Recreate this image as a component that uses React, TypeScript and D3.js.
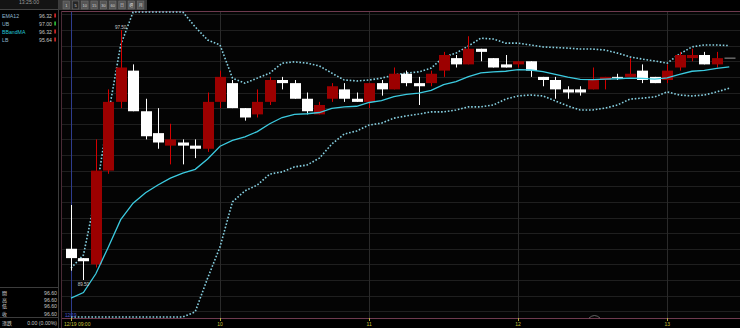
import React from "react";
import * as d3 from "d3";

// ---- data (5-minute bars, 12/19 09:00 .. 13:25) ----
const opens = [90.5, 90.2, 90.0, 93.0, 95.2, 96.2, 94.9, 94.2, 93.8, 93.9, 93.8, 93.7, 95.2, 95.8, 95.0, 94.8, 95.2, 95.9, 95.8, 95.3, 94.8, 95.3, 95.6, 95.3, 95.2, 95.8, 95.6, 96.1, 95.8, 95.8, 96.2, 96.6, 96.4, 96.9, 96.6, 96.4, 96.4, 96.5, 96.0, 95.9, 95.6, 95.6, 95.6, 95.9, 96.0, 96.0, 96.2, 96.0, 95.9, 96.3, 96.6, 96.7, 96.4, 96.6];
const highs = [91.9, 90.2, 94.0, 95.6, 97.5, 96.4, 95.3, 95.0, 94.5, 94.0, 94.0, 95.5, 96.2, 95.9, 95.0, 95.6, 96.0, 96.0, 95.9, 95.5, 95.2, 95.8, 95.8, 95.5, 95.8, 95.9, 96.3, 96.2, 96.0, 96.2, 96.8, 96.7, 97.3, 96.9, 96.6, 96.7, 96.5, 96.5, 96.0, 96.0, 95.7, 95.7, 96.3, 96.0, 96.1, 96.6, 96.4, 96.0, 96.4, 96.8, 96.9, 96.8, 96.8, 96.6];
const lows = [89.8, 89.5, 89.9, 92.9, 95.0, 94.9, 94.0, 93.7, 93.2, 93.2, 93.4, 93.6, 95.0, 95.0, 94.6, 94.7, 95.1, 95.6, 95.3, 94.8, 94.8, 95.2, 95.2, 95.2, 95.0, 95.4, 95.6, 95.7, 95.1, 95.7, 96.0, 96.3, 96.4, 96.5, 96.3, 96.3, 96.3, 96.0, 95.7, 95.3, 95.3, 95.4, 95.6, 95.6, 95.9, 96.0, 95.8, 95.8, 95.8, 96.2, 96.5, 96.4, 96.3, 96.6];
const closes = [90.2, 90.1, 93.0, 95.2, 96.3, 94.9, 94.1, 93.9, 94.0, 93.8, 93.7, 95.2, 96.0, 95.0, 94.7, 95.2, 95.9, 95.8, 95.3, 94.9, 95.1, 95.7, 95.3, 95.2, 95.8, 95.6, 96.1, 95.8, 95.7, 96.1, 96.7, 96.4, 96.9, 96.8, 96.3, 96.3, 96.5, 96.2, 95.9, 95.6, 95.5, 95.5, 95.9, 96.0, 96.0, 96.1, 95.9, 95.8, 96.2, 96.7, 96.7, 96.4, 96.6, 96.6];

const ema12 = [88.92, 89.1, 89.7, 90.55, 91.43, 91.96, 92.29, 92.54, 92.76, 92.92, 93.04, 93.37, 93.78, 93.97, 94.08, 94.25, 94.5, 94.7, 94.8, 94.82, 94.86, 94.99, 95.04, 95.06, 95.18, 95.24, 95.37, 95.44, 95.48, 95.57, 95.75, 95.85, 96.01, 96.13, 96.16, 96.18, 96.23, 96.22, 96.17, 96.08, 95.99, 95.92, 95.91, 95.93, 95.94, 95.96, 95.95, 95.93, 95.97, 96.08, 96.18, 96.21, 96.27, 96.32];
const upperBand = [89.88, 90.3, 92.22, 94.78, 97.02, 98.1, 99.0, 99.1, 99.0, 98.1, 97.6, 97.18, 97.02, 95.96, 95.8, 95.96, 96.12, 96.44, 96.48, 96.44, 96.35, 96.12, 95.9, 95.87, 95.9, 95.96, 96.06, 96.12, 96.16, 96.28, 96.64, 96.76, 96.99, 97.24, 97.21, 97.08, 97.08, 97.02, 96.96, 96.94, 96.92, 96.89, 96.89, 96.86, 96.76, 96.64, 96.57, 96.51, 96.44, 96.73, 96.96, 97.02, 97.02, 97.0];
const lowerBand = [87.96, 87.9, 87.18, 86.32, 85.84, 85.82, 85.58, 85.98, 86.52, 87.74, 88.48, 89.56, 90.56, 92.0, 92.35, 92.54, 92.89, 92.96, 93.12, 93.18, 93.4, 93.85, 94.17, 94.27, 94.46, 94.52, 94.68, 94.75, 94.81, 94.88, 94.88, 94.94, 95.04, 95.04, 95.1, 95.29, 95.39, 95.42, 95.39, 95.23, 95.07, 94.94, 94.94, 95.0, 95.1, 95.29, 95.32, 95.36, 95.52, 95.42, 95.39, 95.42, 95.52, 95.64];

const tickIndex = [0, 12, 24, 36, 48];
const tickLabels = ["12/19 09:00", "10", "11", "12", "13"];

const headerTime = "13:25:00";
const indNames = ["EMA12", "UB", "BBandMA", "LB"];
const indValues = ["96.32", "97.00", "96.32", "95.64"];
const indNameColors = ["#8fb6cf", "#8fb6cf", "#22c4d6", "#8fb6cf"];
const indMarkColors = ["#e02828", "#2fc43a", "#e02828", "#e02828"];
const ohlcNames = ["開", "高", "低", "收"];
const ohlcValues = ["96.60", "96.60", "96.60", "96.60"];
const changeName = "漲跌";
const changeValue = "0.00 (0.00%)";
const periodButtons = ["1", "5", "10", "15", "30", "60", "日", "週", "月"];
const dateTag = "12/19";

const W = 740;
const H = 328;
const PL = 62, PR = 740, PT = 11, PB = 318;

export default function App() {
  const n = closes.length;
  const x = d3.scaleLinear().domain([0, n - 1]).range([71, 71 + (n - 1) * 12.42]);
  const y = d3.scaleLinear().domain([89.5, 97.5]).range([280, 30]);
  const yc = d3.scaleLinear().domain([y.invert(317), y.invert(12)]).range([317, 12]).clamp(true);
  const grid = d3.range(88.5, 98.01, 0.5);
  const idx = d3.range(n);
  const lineGen = (arr: number[]) =>
    d3.line<number>().x((i) => x(i)).y((i) => yc(arr[i]))(idx) || "";

  const hiI = d3.maxIndex(highs);
  const loI = d3.minIndex(lows);
  const narrow = "'Liberation Sans Narrow', 'Liberation Sans', Arial, sans-serif";
  const sans = "'Liberation Sans', Arial, sans-serif";
  const cjk = "'Noto Sans CJK TC', 'Noto Sans CJK SC', sans-serif";

  return (
    <div style={{ position: "absolute", left: 0, top: 0, width: W, height: H, background: "#000" }}>
      <svg width={W} height={H} style={{ display: "block" }}>
        <defs>
          <clipPath id="plotclip">
            <rect x={PL} y={PT} width={PR - PL} height={PB - PT} />
          </clipPath>
        </defs>
        <rect x={0} y={0} width={W} height={H} fill="#000" />
        <rect x={PL} y={PT} width={PR - PL} height={PB - PT} fill="#040404" />

        {/* horizontal grid */}
        <g clipPath="url(#plotclip)">
          {grid.map((g) => (
            <line key={g} x1={PL} x2={PR} y1={Math.round(y(g)) + 0.5} y2={Math.round(y(g)) + 0.5} stroke="#1f1f1f" strokeWidth={1} />
          ))}
          {tickIndex.slice(1).map((t) => (
            <line key={t} x1={Math.round(x(t)) + 0.5} x2={Math.round(x(t)) + 0.5} y1={PT} y2={PB} stroke="#2a2a2a" strokeWidth={1} />
          ))}
          <line x1={Math.round(x(0)) + 0.5} x2={Math.round(x(0)) + 0.5} y1={PT} y2={PB} stroke="#2e3c8e" strokeWidth={1} />
        </g>

        {/* borders */}
        <line x1={PL} x2={PR} y1={PT + 0.5} y2={PT + 0.5} stroke="#6e3a4e" strokeWidth={1} />
        <line x1={PL} x2={PR} y1={PB + 0.5} y2={PB + 0.5} stroke="#6e3a4e" strokeWidth={1} />
        <line x1={PL - 0.5} x2={PL - 0.5} y1={PT} y2={H} stroke="#4a2a36" strokeWidth={1} />

        {/* bands + ema */}
        <g clipPath="url(#plotclip)">
          <path d={lineGen(upperBand)} fill="none" stroke="#86cfe0" strokeWidth={1.6} strokeDasharray="1.6 1.8" />
          <path d={lineGen(lowerBand)} fill="none" stroke="#86cfe0" strokeWidth={1.6} strokeDasharray="1.6 1.8" />
        </g>

        {/* candles */}
        <g clipPath="url(#plotclip)">
          {idx.map((i) => {
            const o = opens[i], c = closes[i], h = highs[i], l = lows[i];
            const cx = Math.round(x(i)) + 0.5;
            const flat = o === c && h === l;
            if (flat) {
              return <line key={i} x1={cx - 5} x2={cx + 6} y1={y(c)} y2={y(c)} stroke="#9a9a9a" strokeWidth={1} />;
            }
            const up = c > o;
            const top = y(Math.max(o, c));
            const bot = y(Math.min(o, c));
            const bh = Math.max(1, bot - top);
            return (
              <g key={i}>
                <line x1={cx} x2={cx} y1={y(h)} y2={y(l)} stroke={up ? "#d40000" : "#ffffff"} strokeWidth={1} />
                <rect x={cx - 5.5} y={top} width={11} height={bh} fill={up ? "#9c0000" : "#ffffff"} />
              </g>
            );
          })}
        </g>

        <g clipPath="url(#plotclip)">
          <path d={lineGen(ema12)} fill="none" stroke="#3ccbe0" strokeWidth={1.3} />
        </g>

        {/* hi/lo labels */}
        <text x={x(hiI)} y={y(highs[hiI]) - 1.5} fontSize={4.6} fill="#c8c8c8" textAnchor="middle" fontFamily={sans}>
          {highs[hiI].toFixed(2)}
        </text>
        <text x={x(loI)} y={y(lows[loI]) + 5.5} fontSize={4.6} fill="#c8c8c8" textAnchor="middle" fontFamily={sans}>
          {lows[loI].toFixed(2)}
        </text>

        {/* date tag inside plot */}
        <text x={65} y={317} fontSize={4.6} fill="#4a5ad6" fontFamily={sans}>{dateTag}</text>
        <path d="M589,318 Q594.5,313 600,318" fill="none" stroke="#8a8a8a" strokeWidth={0.7} />

        {/* x axis */}
        {tickIndex.map((t, k) => (
          <g key={t}>
            <line x1={Math.round(x(t)) + 0.5} x2={Math.round(x(t)) + 0.5} y1={PB} y2={PB + 3} stroke="#b8b040" strokeWidth={1} />
            <text x={k === 0 ? 64 : x(t)} y={326} fontSize={5} fill="#c9c23c" textAnchor={k === 0 ? "start" : "middle"} fontFamily={sans}>
              {tickLabels[k]}
            </text>
          </g>
        ))}

        {/* toolbar */}
        <rect x={58} y={0} width={89} height={10} fill="#3a3a3a" />
        {periodButtons.map((b, k) => {
          const bx = 63 + k * 9.3;
          return (
            <g key={b}>
              <rect x={bx} y={1} width={6.5} height={8} fill={k === 1 ? "#262626" : "#555"} stroke="#777" strokeWidth={0.5} />
              <text x={bx + 3.25} y={6.8} fontSize={4} fill="#d8d8d8" textAnchor="middle" fontFamily={/[0-9]/.test(b) ? sans : cjk}>
                {b}
              </text>
            </g>
          );
        })}

        {/* left panel */}
        <rect x={0} y={0} width={58} height={9.5} fill="#141414" />
        <text x={29} y={4.2} fontSize={5.2} fill="#9a9a9a" textAnchor="middle" fontFamily={narrow}>{headerTime}</text>
        <line x1={0} x2={58} y1={9.5} y2={9.5} stroke="#444" strokeWidth={1} />
        {indNames.map((nm, k) => {
          const by = 17.5 + k * 8;
          return (
            <g key={nm}>
              <text x={2} y={by} fontSize={5.2} fill={indNameColors[k]} fontFamily={narrow}>{nm}</text>
              <text x={52} y={by} fontSize={5.2} fill="#c4c4c4" textAnchor="end" fontFamily={narrow}>{indValues[k]}</text>
              <rect x={54.3} y={by - 4} width={1.6} height={4} fill={indMarkColors[k]} />
            </g>
          );
        })}
        <line x1={58.5} x2={58.5} y1={0} y2={H} stroke="#3c3c3c" strokeWidth={1} />
        <line x1={0} x2={58} y1={287.5} y2={287.5} stroke="#3c3c3c" strokeWidth={1} />
        {ohlcNames.map((nm, k) => {
          const by = [295, 301.5, 308, 315.5][k];
          return (
            <g key={nm}>
              <text x={2} y={by} fontSize={5} fill="#cfcfcf" fontFamily={cjk}>{nm}</text>
              <text x={57} y={by} fontSize={5.2} fill="#c4c4c4" textAnchor="end" fontFamily={narrow}>{ohlcValues[k]}</text>
            </g>
          );
        })}
        <line x1={0} x2={58} y1={317.5} y2={317.5} stroke="#3c3c3c" strokeWidth={1} />
        <text x={2} y={324.5} fontSize={5} fill="#cfcfcf" fontFamily={cjk}>{changeName}</text>
        <text x={57} y={324.5} fontSize={5.2} fill="#c4c4c4" textAnchor="end" fontFamily={narrow}>{changeValue}</text>
      </svg>
    </div>
  );
}
